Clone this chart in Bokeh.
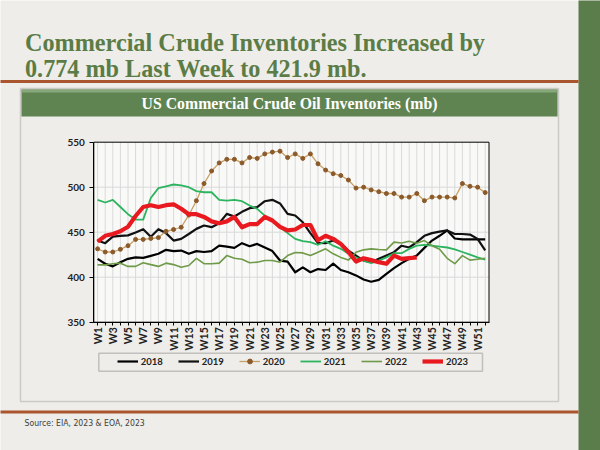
import math
from bokeh.plotting import figure
from bokeh.models import Range1d, FixedTicker, Legend, LegendItem, Label, BoxAnnotation
from bokeh.embed import file_html
from bokeh.resources import INLINE

# ---------------- data ----------------
weeks = list(range(1, 53))
week_labels = ["W%d" % w for w in weeks]
y_ticks = [350, 400, 450, 500, 550]
series_names = ["2018", "2019", "2020", "2021", "2022", "2023"]

inv_2018 = [420.4, 415, 412, 416.7, 420.4, 422, 421.5, 423.7, 426, 430.4,
            429, 429.6, 426, 429, 428, 429, 435, 434, 432.6, 437.8,
            434.4, 437, 433, 429, 418.5, 417.4, 405.5, 411, 405.5, 409,
            408, 415, 408, 405.5, 402, 397.4, 395, 397, 403.7, 410,
            415.6, 420.4, 424, 432.6, 440.7, 446, 452, 443, 442, 442,
            442, 442]
inv_2019 = [440.7, 437.8, 445, 446, 446.5, 449.6, 453.3, 445, 453.3, 449,
            440.7, 442.6, 448, 453.7, 457.4, 455.6, 460, 470.4, 467.4, 472.6,
            476.7, 477.8, 484.4, 486, 482, 470.4, 468.5, 461, 449, 438,
            437.8, 440.7, 437, 429.6, 424, 418.5, 416.7, 420.4, 424, 427.8,
            435, 433, 439, 446, 449, 450.7, 452, 448, 448, 447.4,
            442.6, 429.7]
inv_2020 = [431.5, 428, 428, 431, 435, 442, 442, 443, 444, 451,
            453, 455.5, 469, 485, 504, 518, 527, 531, 531, 527,
            533, 532, 537, 539, 540, 533, 537, 532, 537, 526,
            519, 515, 513, 508, 499, 500, 497, 495, 493, 493,
            489, 489, 493, 485, 489, 489, 489, 488, 504, 501,
            500, 494]
inv_2021 = [486, 483, 486, 478, 470, 464, 464, 488, 499, 501,
            503, 502, 500, 495.6, 494.4, 494.4, 486, 485, 486, 484.4,
            479.6, 476, 468.5, 462, 455.5, 449, 442.6, 440, 439, 436,
            440, 435, 431.5, 426, 422, 418.5, 415.6, 418.5, 422, 426.7,
            426.7, 431.5, 435, 436, 435, 434, 433, 431, 428, 425,
            422, 419.5]
inv_2022 = [413.7, 413.7, 415, 415.6, 412, 412, 416, 414, 412, 415.6,
            414, 411, 413, 421, 415, 415, 415.6, 424, 421, 420,
            416, 416.7, 418.5, 418.5, 416.7, 424, 427.4, 427, 424, 427.8,
            431.5, 426, 422, 419, 427.8, 430.4, 431.5, 430.7, 430.4, 439,
            438, 440, 437.8, 440.7, 435, 431, 421, 415, 424, 419,
            420, 421]
inv_2023 = [439.6, 446, 448, 451, 456, 468, 478, 480, 478, 480,
            481, 476, 470, 470, 467, 462, 460, 462, 467, 455.5,
            459, 459, 467, 463, 456, 452, 453, 458, 458, 441,
            446, 442.6, 437, 428, 417.4, 421, 419, 416.7, 415, 424,
            420.4, 421.1, 421.9]

# ---------------- layout (canvas pixels) ----------------
W, H = 600, 450
PL, PR, PT, PB = 93.3, 488.5, 141.7, 321.7      # plot area on the canvas
BG = "#eeede9"
GREEN = "#5b7d4b"
RUST = "#a9552e"
SERIF = "Liberation Serif"
SANS = "Lato"

x_lo, x_hi = weeks[0] - 0.5, weeks[-1] + 0.5
y_lo, y_hi = y_ticks[0], y_ticks[-1]
ux = (x_hi - x_lo) / (PR - PL)
uy = (y_hi - y_lo) / (PB - PT)
x_range = Range1d(x_lo - PL * ux, x_hi + (W - PR) * ux)
y_range = Range1d(y_lo - (H - PB) * uy, y_hi + PT * uy)

p = figure(width=W, height=H, x_range=x_range, y_range=y_range,
           output_backend="svg", toolbar_location=None, tools="",
           min_border=0, min_border_left=0, min_border_right=0,
           min_border_top=0, min_border_bottom=0)
p.title.visible = False
p.background_fill_color = BG
p.border_fill_color = BG
p.outline_line_color = None
p.xgrid.visible = False
p.ygrid.visible = False

# axes pinned to the plot-area edges
p.xaxis.fixed_location = y_lo
p.yaxis.fixed_location = x_lo
p.xaxis.bounds = (x_lo, x_hi)
p.yaxis.bounds = (y_lo, y_hi)
p.xaxis.ticker = FixedTicker(ticks=weeks[::2], minor_ticks=weeks[1::2])
p.xaxis.major_label_overrides = {w: lbl for w, lbl in zip(weeks, week_labels) if w % 2 == 1}
p.xaxis.major_label_orientation = math.pi / 2
p.yaxis.ticker = FixedTicker(ticks=y_ticks)
for ax in (p.xaxis[0], p.yaxis[0]):
    ax.axis_line_color = "black"
    ax.major_tick_line_color = "black"
    ax.minor_tick_line_color = "black"
    ax.major_tick_in = 0
    ax.minor_tick_in = 0
    ax.major_label_text_font = SANS
    ax.major_label_text_font_style = "bold"
    ax.major_label_text_color = "#222222"
p.xaxis.major_label_text_font_size = "10.5px"
p.yaxis.major_label_text_font_size = "10px"
p.xaxis.major_tick_out = 3
p.xaxis.minor_tick_out = 3
p.xaxis.major_label_standoff = 2
p.yaxis.major_tick_out = 4
p.yaxis.minor_tick_out = 0
p.yaxis.major_label_standoff = 5

# plot area + grid
p.quad(left=x_lo, right=x_hi, bottom=y_lo, top=y_hi, fill_color="#f9f9f8", line_color=None)
p.segment(x0=weeks, x1=weeks, y0=y_lo, y1=y_hi, line_color="#d9d9d9", line_width=1)
p.segment(x0=x_lo, x1=x_hi, y0=y_ticks[1:-1], y1=y_ticks[1:-1], line_color="#d9d9d9", line_width=1)

# series
r18 = p.line(weeks, inv_2018, line_color="#000000", line_width=2.2, line_join="round")
r19 = p.line(weeks, inv_2019, line_color="#111111", line_width=2.2, line_join="round")
r20 = p.line(weeks, inv_2020, line_color="#c9a063", line_width=1.3)
r20m = p.scatter(weeks, inv_2020, marker="circle", size=4, fill_color="#8b5a2b", line_color="#8b5a2b")
r21 = p.line(weeks, inv_2021, line_color="#2db45f", line_width=1.8, line_join="round")
r22 = p.line(weeks, inv_2022, line_color="#6f9a48", line_width=1.6, line_join="round")
r23 = p.line(weeks[:len(inv_2023)], inv_2023, line_color="#e8191f", line_width=4.2, line_join="round")

p.quad(left=x_lo, right=x_hi, bottom=y_lo, top=y_hi, fill_color=None, line_color="black", line_width=1)

# legend
legend = Legend(items=[LegendItem(label=series_names[0], renderers=[r18]),
                       LegendItem(label=series_names[1], renderers=[r19]),
                       LegendItem(label=series_names[2], renderers=[r20, r20m]),
                       LegendItem(label=series_names[3], renderers=[r21]),
                       LegendItem(label=series_names[4], renderers=[r22]),
                       LegendItem(label=series_names[5], renderers=[r23])],
                orientation="horizontal", location=(112.7, H - 371),
                label_text_font=SANS, label_text_font_style="bold", label_text_font_size="9.5px",
                label_text_color="#222222",
                glyph_width=21, glyph_height=12, label_height=12, label_standoff=3,
                spacing=15, padding=4, margin=0,
                border_line_alpha=0, background_fill_alpha=0)
p.add_layout(legend)

# ---------------- decorations (screen units = canvas px, y up) ----------------
def box(l, r, t, b, **kw):
    p.add_layout(BoxAnnotation(left=l, right=r, top=H - t, bottom=H - b,
                               left_units="screen", right_units="screen",
                               top_units="screen", bottom_units="screen",
                               level="underlay", **kw))

box(578, 610, -10, 460, fill_color=GREEN, fill_alpha=1, line_alpha=0)
box(-10, 578, 79.5, 82.5, fill_color=RUST, fill_alpha=1, line_alpha=0)
box(-10, 578, 410, 413, fill_color=RUST, fill_alpha=1, line_alpha=0)
box(20, 558, 88, 401, fill_alpha=0, line_color="#7a7a7a", line_width=1.5)
box(21, 557, 89, 116, fill_color="#5f8452", fill_alpha=1, line_alpha=0)
box(21, 557, 89, 92, fill_color="#86a77a", fill_alpha=1, line_alpha=0)
box(98.3, 482, 352.7, 370.7, fill_alpha=0, line_color="#5a5a5a", line_width=1.5)

def label(cx, cy, text, **kw):
    p.add_layout(Label(x=cx, y=H - cy, x_units="screen", y_units="screen", text=text, **kw))

label(24.5, 41.7, "Commercial Crude Inventories Increased by", text_font=SERIF, text_font_style="bold",
      text_font_size="24.2px", text_color="#5b7c46", text_baseline="alphabetic")
label(24.5, 68.3, "0.774 mb Last Week to  421.9 mb.", text_font=SERIF, text_font_style="bold",
      text_font_size="24.2px", text_color="#5b7c46", text_baseline="alphabetic")
label(289, 103, "US Commercial Crude Oil Inventories (mb)", text_font=SERIF, text_font_style="bold",
      text_font_size="15.8px", text_color="white", text_align="center", text_baseline="middle")
label(24, 422, "Source: EIA, 2023 & EOA, 2023", text_font="DejaVu Sans Condensed",
      text_font_size="8.6px", text_color="#404040", text_baseline="middle")

open("out.html", "w").write(file_html(p, INLINE))
